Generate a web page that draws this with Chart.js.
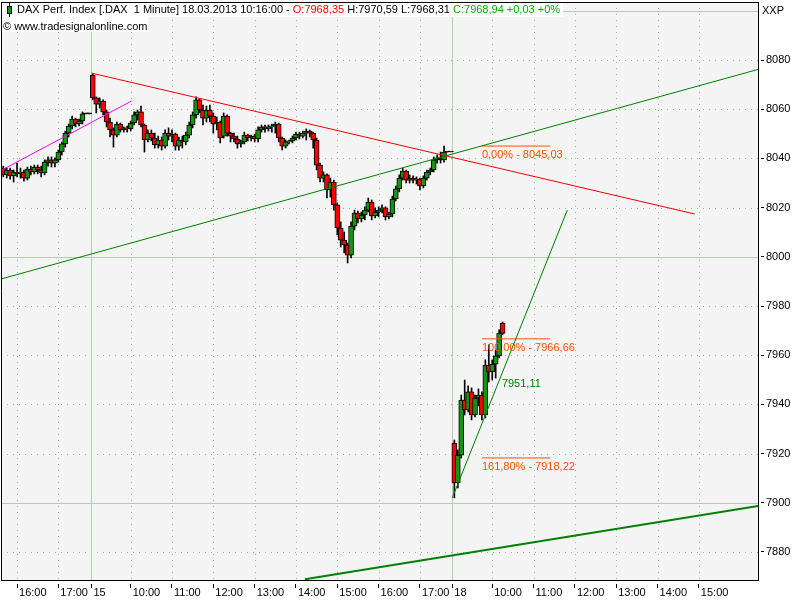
<!DOCTYPE html>
<html>
<head>
<meta charset="utf-8">
<title>DAX Perf. Index 1 Minute</title>
<script src="https://cdn.jsdelivr.net/npm/chart.js@4.4.1/dist/chart.umd.min.js"></script>
<style>
  html, body { margin: 0; padding: 0; background: #fff; }
  canvas { display: block; }
</style>
</head>
<body>
<canvas id="daxChart" width="800" height="600"></canvas>
<script>
// 5 minute bars, "day hh:mm"
const barTimes = [
  "14 15:40","14 15:45","14 15:50","14 15:55","14 16:00","14 16:05","14 16:10","14 16:15","14 16:20","14 16:25",
  "14 16:30","14 16:35","14 16:40","14 16:45","14 16:50","14 16:55","14 17:00","14 17:05","14 17:10","14 17:15",
  "14 17:20","14 17:25","14 17:30","14 17:35","14 17:40","14 17:45",
  "15 09:05","15 09:10","15 09:15","15 09:20","15 09:25","15 09:30","15 09:35","15 09:40","15 09:45","15 09:50","15 09:55",
  "15 10:00","15 10:05","15 10:10","15 10:15","15 10:20","15 10:25","15 10:30","15 10:35","15 10:40","15 10:45","15 10:50","15 10:55",
  "15 11:00","15 11:05","15 11:10","15 11:15","15 11:20","15 11:25","15 11:30","15 11:35","15 11:40","15 11:45","15 11:50","15 11:55",
  "15 12:00","15 12:05","15 12:10","15 12:15","15 12:20","15 12:25","15 12:30","15 12:35","15 12:40","15 12:45","15 12:50","15 12:55",
  "15 13:00","15 13:05","15 13:10","15 13:15","15 13:20","15 13:25","15 13:30","15 13:35","15 13:40","15 13:45","15 13:50","15 13:55",
  "15 14:00","15 14:05","15 14:10","15 14:15","15 14:20","15 14:25","15 14:30","15 14:35","15 14:40","15 14:45","15 14:50","15 14:55",
  "15 15:00","15 15:05","15 15:10","15 15:15","15 15:20","15 15:25","15 15:30","15 15:35","15 15:40","15 15:45","15 15:50","15 15:55",
  "15 16:00","15 16:05","15 16:10","15 16:15","15 16:20","15 16:25","15 16:30","15 16:35","15 16:40","15 16:45","15 16:50","15 16:55",
  "15 17:00","15 17:05","15 17:10","15 17:15","15 17:20","15 17:25","15 17:30","15 17:35","15 17:40","15 17:45",
  "18 09:05","18 09:10","18 09:15","18 09:20","18 09:25","18 09:30","18 09:35","18 09:40","18 09:45","18 09:50","18 09:55",
  "18 10:00","18 10:05","18 10:10","18 10:15"
];

const open = [
  8036.1,8033.3,8035.3,8032.9,8034.5,8033.7,8034.5,8032.0,8035.7,8034.5,8036.5,8035.3,8034.1,8038.5,8039.4,8038.1,8039.4,8042.6,8045.9,8050.3,
  8053.2,8056.0,8054.0,8055.2,8058.1,8058.1,
  8073.9,8064.6,8062.1,8063.3,8058.9,8054.8,8051.6,8049.5,8054.0,8051.6,8052.4,
  8052.0,8054.4,8057.7,8058.9,8053.6,8047.5,8050.3,8048.3,8045.5,8047.5,8045.0,8050.3,
  8049.1,8049.9,8045.0,8047.5,8046.7,8049.5,8053.6,8057.7,8063.8,8059.7,8056.4,8059.7,
  8057.2,8054.0,8054.8,8049.1,8057.2,8050.3,8049.1,8047.9,8045.9,8046.7,8049.5,8048.3,
  8049.1,8047.9,8051.6,8052.8,8052.0,8052.8,8053.2,8054.0,8048.3,8045.0,8046.7,8047.1,
  8048.3,8049.9,8049.1,8050.3,8051.1,8050.3,8047.5,8037.3,8032.0,8033.3,8027.2,8030.4,
  8021.1,8011.7,8006.8,8004.8,8000.7,8012.5,8017.8,8015.4,8017.0,8019.0,8022.3,8016.6,
  8018.2,8019.0,8019.9,8016.2,8017.4,8023.5,8027.6,8032.0,8034.9,8031.2,8032.0,8031.2,
  8031.6,8028.8,8032.0,8034.5,8035.3,8039.4,8040.2,8039.4,8042.6,8042.6,
  7924.3,7908.1,7919.4,7941.8,7937.7,7945.1,7935.7,7942.6,7943.8,7935.7,7956.0,
  7953.2,7956.4,7959.7,7973.1
];
const high = [
  8036.9,8036.1,8036.1,8035.3,8038.1,8036.1,8035.3,8036.5,8036.9,8037.3,8037.3,8036.9,8039.4,8040.6,8040.6,8040.2,8043.4,8046.7,8051.1,8054.0,
  8057.2,8056.4,8056.0,8058.9,8058.1,8058.1,
  8074.3,8065.0,8064.6,8063.8,8059.7,8056.4,8052.4,8054.8,8054.4,8052.8,8053.2,
  8055.2,8058.9,8059.7,8061.3,8054.0,8051.6,8051.6,8050.3,8049.1,8048.7,8051.6,8052.4,
  8051.6,8050.3,8048.7,8049.1,8050.7,8054.8,8058.9,8065.0,8064.2,8061.7,8061.3,8061.7,
  8058.5,8056.8,8055.2,8058.5,8057.7,8050.7,8050.3,8049.1,8047.5,8050.7,8049.9,8049.5,
  8049.9,8052.8,8053.6,8053.6,8053.6,8054.0,8054.8,8054.4,8048.7,8047.5,8047.5,8049.1,
  8050.7,8050.7,8051.1,8052.0,8051.6,8050.7,8048.3,8038.1,8034.5,8033.7,8032.0,8031.2,
  8021.9,8014.2,8010.1,8005.6,8014.2,8019.0,8018.6,8018.2,8020.3,8023.9,8023.1,8019.9,
  8020.3,8021.1,8020.3,8018.2,8024.7,8028.8,8033.3,8036.1,8035.3,8033.3,8032.9,8032.5,
  8032.0,8032.9,8035.3,8036.1,8040.6,8041.4,8042.6,8045.03,8042.6,8042.6,
  7925.5,7921.5,7943.8,7949.9,7947.5,7946.7,7943.8,7946.3,7945.1,7958.1,7964.2,
  7958.1,7962.1,7970.3,7973.5
];
const low = [
  8032.5,8032.0,8031.6,8030.4,8032.5,8032.0,8030.8,8031.2,8033.3,8033.7,8033.7,8032.5,8033.3,8036.9,8036.5,8036.5,8038.5,8041.4,8044.6,8048.7,
  8052.0,8052.8,8053.2,8054.0,8058.1,8058.1,
  8063.8,8058.5,8060.5,8057.7,8052.8,8048.7,8044.6,8048.7,8050.7,8050.7,8050.7,
  8051.1,8053.6,8055.6,8052.8,8042.6,8046.7,8047.1,8044.2,8044.2,8043.4,8044.2,8047.5,
  8046.7,8043.4,8043.4,8044.2,8045.5,8048.3,8052.4,8056.4,8058.5,8053.6,8054.8,8054.8,
  8050.3,8051.6,8046.3,8048.3,8049.1,8046.7,8046.7,8044.2,8044.6,8045.9,8047.1,8047.1,
  8046.7,8046.7,8050.7,8050.7,8051.1,8050.7,8050.3,8046.7,8043.4,8044.2,8045.9,8046.3,
  8047.5,8047.9,8048.3,8047.5,8048.7,8044.2,8035.3,8030.4,8030.4,8023.9,8024.3,8019.0,
  8008.9,8004.0,8001.6,7997.5,7999.5,8010.9,8013.8,8014.2,8015.0,8018.2,8015.0,8015.8,
  8016.2,8017.8,8015.0,8015.4,8016.2,8022.7,8026.4,8031.2,8030.0,8030.0,8030.0,8029.6,
  8027.2,8028.0,8031.2,8033.3,8034.5,8038.1,8038.1,8038.5,8042.6,8042.6,
  7902.0,7906.0,7918.2,7935.7,7936.9,7933.7,7934.9,7939.4,7933.7,7934.5,7949.1,
  7949.9,7950.7,7958.9,7968.3
];
const close = [
  8033.3,8035.3,8032.9,8034.5,8033.7,8034.5,8032.0,8035.7,8034.5,8036.5,8035.3,8034.1,8038.5,8039.4,8038.1,8039.4,8042.6,8045.9,8050.3,8053.2,
  8056.0,8054.0,8055.2,8058.1,8058.1,8058.1,
  8064.6,8062.1,8063.3,8058.9,8054.8,8051.6,8049.5,8054.0,8051.6,8052.4,8052.0,
  8054.4,8057.7,8058.9,8053.6,8047.5,8050.3,8048.3,8045.5,8047.5,8045.0,8050.3,8049.1,
  8049.9,8045.0,8047.5,8046.7,8049.5,8053.6,8057.7,8063.8,8059.7,8056.4,8059.7,8057.2,
  8054.0,8054.8,8048.3,8057.2,8050.3,8049.1,8047.9,8045.9,8046.7,8049.5,8048.3,8049.1,
  8047.9,8051.6,8052.8,8052.0,8052.8,8053.2,8054.0,8048.3,8045.0,8046.7,8047.1,8048.3,
  8049.9,8049.1,8050.3,8051.1,8050.3,8047.5,8037.3,8032.0,8033.3,8027.2,8030.4,8021.1,
  8011.7,8006.8,8004.8,8000.7,8012.5,8017.8,8015.4,8017.0,8019.0,8022.3,8016.6,8018.2,
  8019.0,8019.9,8016.2,8017.4,8023.5,8027.6,8032.0,8034.9,8031.2,8032.0,8031.2,8031.6,
  8028.8,8032.0,8034.5,8035.3,8039.4,8040.2,8039.4,8042.6,8042.6,8042.6,
  7908.1,7919.4,7941.8,7937.7,7945.1,7935.7,7942.6,7943.8,7935.7,7956.0,7953.2,
  7956.4,7959.7,7969.0,7968.9
];

// axis ticks
const xTickTimes  = ["14 16:00","14 17:00","15 09:03","15 10:00","15 11:00","15 12:00","15 13:00","15 14:00","15 15:00","15 16:00","15 17:00",
                     "18 09:02","18 10:00","18 11:00","18 12:00","18 13:00","18 14:00","18 15:00"];
const xTickLabels = ["16:00","17:00","15","10:00","11:00","12:00","13:00","14:00","15:00","16:00","17:00",
                     "18","10:00","11:00","12:00","13:00","14:00","15:00"];
const dayStartLabels = ["15", "18"];
const yTickValues = [7880, 7900, 7920, 7940, 7960, 7980, 8000, 8020, 8040, 8060, 8080];
const yGridValues = [7880, 7900, 7920, 7940, 7960, 7980, 8000, 8020, 8040, 8060, 8080, 8100];

// drawing tools (trend lines, fibonacci levels)
const redLineTimes = ["15 09:03", "18 14:54"];
const redLineValues = [8074.7, 8017.4];
const greenLineTimes = ["14 15:37", "18 16:26"];
const greenLineValues = [7991.0, 8076.2];
const magentaLineTimes = ["14 15:38", "15 10:01"];
const magentaLineValues = [8035.3, 8063.3];
const thickLineTimes = ["15 14:13", "18 16:26"];
const thickLineValues = [7868.9, 7898.7];
const riseLineTimes = ["18 09:02", "18 11:49"];
const riseLineValues = [7902.0, 8019.0];
const fibTimes = ["18 09:45", "18 11:24"];
const fibLevels = [8045.03, 7966.66, 7918.22];
const fibLabels = ["0,00% - 8045,03", "100,00% - 7966,66", "161,80% - 7918,22"];
const riseLabelTime = "18 10:14";
const riseLabelValue = 7951.11;
const riseLabelText = "7951,11";

const titleParts = [
  ["DAX Perf. Index [.DAX  1 Minute] 18.03.2013 10:16:00 - ", "#000000"],
  ["O:7968,35", "#ff0000"],
  [" H:7970,59 L:7968,31 ", "#000000"],
  ["C:7968,94 +0,03 +0%", "#00b000"]
];
const copyrightText = "\u00a9 www.tradesignalonline.com";

const FONT = "Liberation Sans";
const UP = "#129612";
const DOWN = "#ff0000";
const FIB = "#ff5000";
const DARKGREEN = "#008000";

const dayIndex = { "14": 0, "15": 1, "18": 2 };
const SESSION = 525; // 09:00 - 17:45

function toMinute(s) {
  const parts = s.split(" ");
  const hm = parts[1].split(":").map(Number);
  return dayIndex[parts[0]] * SESSION + hm[0] * 60 + hm[1] - 540;
}

function seg(times, values) {
  return times.map((t, i) => ({ x: toMinute(t), y: values[i] }));
}

const xs = barTimes.map(toMinute);
const bodyData = xs.map((x, i) => ({ x: x, y: [open[i], close[i]] }));
const wickData = xs.map((x, i) => ({ x: x, y: [low[i], high[i]] }));
const bodyColors = xs.map((x, i) => close[i] > open[i] ? UP : (close[i] < open[i] ? DOWN : "#000000"));

function lineSet(label, data, color, width) {
  return {
    type: "line", label: label, data: data,
    borderColor: color, borderWidth: width,
    pointRadius: 0, tension: 0, fill: false, order: 1
  };
}

const datasets = [
  lineSet("Trend 1", seg(redLineTimes, redLineValues), "#ff0000", 1),
  lineSet("Trend 2", seg(greenLineTimes, greenLineValues), DARKGREEN, 1),
  lineSet("Trend 3", seg(magentaLineTimes, magentaLineValues), "#ff00ff", 1),
  lineSet("Trend 4", seg(thickLineTimes, thickLineValues), DARKGREEN, 2),
  lineSet("Trend 5", seg(riseLineTimes, riseLineValues), DARKGREEN, 1)
];
fibLevels.forEach((lvl, i) => {
  datasets.push(lineSet("Fib " + i, seg(fibTimes, [lvl, lvl]), FIB, 1));
});
datasets.push({
  type: "bar", label: "Body", data: bodyData,
  backgroundColor: bodyColors, borderColor: "#000000", borderWidth: 1,
  borderSkipped: false, barThickness: 5, minBarLength: 1, grouped: false, order: 5
});
datasets.push({
  type: "bar", label: "Wick", data: wickData,
  backgroundColor: "#000000", borderWidth: 0,
  barThickness: 1, grouped: false, order: 6
});

const backgroundGrid = {
  id: "backgroundGrid",
  beforeDraw(chart) {
    const ctx = chart.ctx;
    const a = chart.chartArea;
    const xs_ = chart.scales.x, ys_ = chart.scales.y;
    ctx.save();
    ctx.fillStyle = "#f4f4f4";
    ctx.fillRect(a.left, a.top, a.right - a.left, a.bottom - a.top);
    ctx.lineWidth = 1;
    yGridValues.forEach(v => {
      const py = Math.round(ys_.getPixelForValue(v)) + 0.5;
      const solid = v % 100 === 0;
      ctx.strokeStyle = solid ? "#b4cdb4" : "#94b894";
      ctx.setLineDash(solid ? [] : [1, 5]);
      ctx.beginPath();
      ctx.moveTo(a.left, py);
      ctx.lineTo(a.right, py);
      ctx.stroke();
    });
    xTickTimes.forEach((t, i) => {
      const px = Math.round(xs_.getPixelForValue(toMinute(t))) + 0.5;
      const solid = dayStartLabels.includes(xTickLabels[i]);
      ctx.strokeStyle = solid ? "#b4cdb4" : "#94b894";
      ctx.setLineDash(solid ? [] : [1, 5]);
      ctx.beginPath();
      ctx.moveTo(px, a.top);
      ctx.lineTo(px, a.bottom);
      ctx.stroke();
    });
    ctx.restore();
  }
};

const overlays = {
  id: "overlays",
  afterDraw(chart) {
    const ctx = chart.ctx;
    const a = chart.chartArea;
    const xs_ = chart.scales.x, ys_ = chart.scales.y;
    ctx.save();
    ctx.font = "11px '" + FONT + "'";
    ctx.textBaseline = "alphabetic";
    ctx.textAlign = "left";

    // fibonacci labels
    const fx = xs_.getPixelForValue(toMinute(fibTimes[0]));
    fibLevels.forEach((lvl, i) => {
      ctx.fillStyle = FIB;
      ctx.fillText(fibLabels[i], fx, ys_.getPixelForValue(lvl) + 12);
    });
    ctx.fillStyle = DARKGREEN;
    ctx.fillText(riseLabelText, xs_.getPixelForValue(toMinute(riseLabelTime)),
      ys_.getPixelForValue(riseLabelValue) + 10);

    // header boxes
    ctx.fillStyle = "#ffffff";
    let w = 17;
    titleParts.forEach(p => { w += ctx.measureText(p[0]).width; });
    ctx.fillRect(0, 0, w + 3, 17);
    ctx.fillRect(0, 17, ctx.measureText(copyrightText).width + 4, 15);

    // little candle icon
    ctx.strokeStyle = "#000000";
    ctx.lineWidth = 1;
    ctx.beginPath();
    ctx.moveTo(9.5, 3);
    ctx.lineTo(9.5, 17);
    ctx.stroke();
    ctx.fillStyle = UP;
    ctx.fillRect(7, 6, 5, 8);
    ctx.strokeRect(7.5, 6.5, 4, 7);

    let x = 17;
    titleParts.forEach(p => {
      ctx.fillStyle = p[1];
      ctx.fillText(p[0], x, 13);
      x += ctx.measureText(p[0]).width;
    });
    ctx.fillStyle = "#000000";
    ctx.fillText(copyrightText, 3, 30);
    ctx.fillText("XXP", a.right + 4, 14);

    // frame
    ctx.strokeStyle = "#000000";
    ctx.beginPath();
    ctx.moveTo(a.left + 0.5, a.top);
    ctx.lineTo(a.left + 0.5, a.bottom + 1);
    ctx.moveTo(a.left, a.top + 0.5);
    ctx.lineTo(a.right + 1, a.top + 0.5);
    ctx.moveTo(a.right + 0.5, a.top);
    ctx.lineTo(a.right + 0.5, a.bottom + 1);
    ctx.moveTo(a.left, a.bottom + 0.5);
    ctx.lineTo(a.right + 1, a.bottom + 0.5);
    ctx.stroke();
    ctx.restore();
  }
};

const tickFont = { family: FONT, size: 11 };

function noPadding(s) {
  s.paddingTop = 0;
  s.paddingBottom = 0;
  s.paddingLeft = 0;
  s.paddingRight = 0;
}

new Chart(document.getElementById("daxChart"), {
  type: "bar",
  data: { datasets: datasets },
  options: {
    responsive: false,
    devicePixelRatio: 1,
    animation: false,
    events: [],
    layout: { autoPadding: false, padding: { left: 1, top: 2, right: 0, bottom: 0 } },
    plugins: { legend: { display: false }, tooltip: { enabled: false }, title: { display: false } },
    scales: {
      x: {
        type: "linear", position: "bottom", offset: false, bounds: "data",
        min: 396.7, max: 1495.9,
        grid: { offset: false, drawOnChartArea: false, drawTicks: true, tickLength: 8, tickColor: "#000000", tickWidth: 1, tickBorderDash: [0, 3, 5, 20] },
        border: { display: true, color: "#000000", width: 1 },
        ticks: {
          autoSkip: false, maxRotation: 0, minRotation: 0, align: "start",
          labelOffset: 2, padding: -2, color: "#000000", font: tickFont,
          callback: (v, i) => xTickLabels[i]
        },
        afterBuildTicks: s => { s.ticks = xTickTimes.map(t => ({ value: toMinute(t) })); },
        afterFit: s => { s.height = 20; noPadding(s); }
      },
      y: {
        type: "linear", position: "right", bounds: "data",
        min: 7868.6, max: 8103.6,
        grid: { offset: false, drawOnChartArea: false, drawTicks: true, tickLength: 6, tickColor: "#000000", tickWidth: 1, tickBorderDash: [0, 2, 4, 20] },
        border: { display: true, color: "#000000", width: 1 },
        ticks: { padding: 2, color: "#000000", font: tickFont, callback: v => String(v) },
        afterBuildTicks: s => { s.ticks = yTickValues.map(v => ({ value: v })); },
        afterFit: s => { s.width = 42; noPadding(s); }
      }
    }
  },
  plugins: [backgroundGrid, overlays]
});
</script>
</body>
</html>
